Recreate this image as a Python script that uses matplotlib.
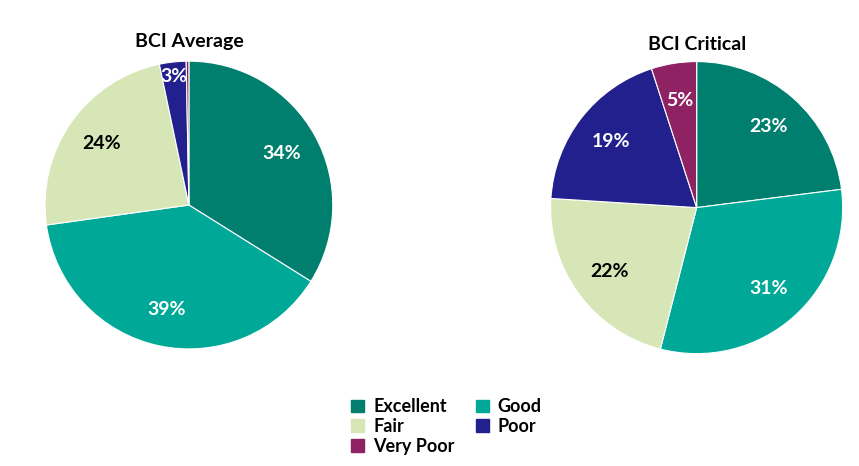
import numpy as np
import matplotlib.pyplot as plt
from matplotlib.patches import Patch

categories = ['Excellent', 'Good', 'Fair', 'Poor', 'Very Poor']
colors = ['#007F6E', '#00A997', '#D6E6B6', '#22208C', '#8E2262']
avg_values = [34, 39, 24, 3, 0.3]
avg_labels = ['34%', '39%', '24%', '3%', '']
crit_values = [23, 31, 22, 19, 5]
crit_labels = ['23%', '31%', '22%', '19%', '5%']
label_colors = ['white', 'white', 'black', 'white', 'white']

plt.rcParams['font.family'] = ['Lato', 'DejaVu Sans']
plt.rcParams['font.weight'] = 'bold'

fig = plt.figure(figsize=(8.59, 4.66), dpi=100)
ax1 = fig.add_axes([0.0524, 0.251, 0.335, 0.618])
ax2 = fig.add_axes([0.641, 0.241, 0.34, 0.627])


def draw(ax, values, labels, title, ty):
    ax.pie(values, colors=colors, startangle=90, counterclock=False,
           wedgeprops=dict(edgecolor='white', linewidth=0.8))
    total = sum(values)
    start = 90
    for v, lab, c in zip(values, labels, label_colors):
        mid = np.deg2rad(start - v / total * 360 / 2)
        start -= v / total * 360
        if lab:
            r = 0.9 if v < 5 else 0.74
            ax.text(r * np.cos(mid), r * np.sin(mid), lab, ha='center', va='center',
                    color=c, fontsize=14, fontweight='bold')
    ax.set_xlim(-1, 1)
    ax.set_ylim(-1, 1)
    ax.set_aspect('equal')
    ax.text(0.5, ty, title, transform=ax.transAxes, ha='center', fontsize=14, fontweight='bold')


draw(ax1, avg_values, avg_labels, 'BCI Average', 1.05)
draw(ax2, crit_values, crit_labels, 'BCI Critical', 1.04)

order = [0, 2, 4, 1, 3]
handles = [Patch(color=colors[i]) for i in order]
fig.legend(handles, [categories[i] for i in order], loc='center', bbox_to_anchor=(0.52, 0.085), ncol=2,
           frameon=False, fontsize=13, handlelength=0.7, handleheight=0.7,
           columnspacing=1.2, labelspacing=0.15, handletextpad=0.5)

plt.savefig('out.png', dpi=100)
